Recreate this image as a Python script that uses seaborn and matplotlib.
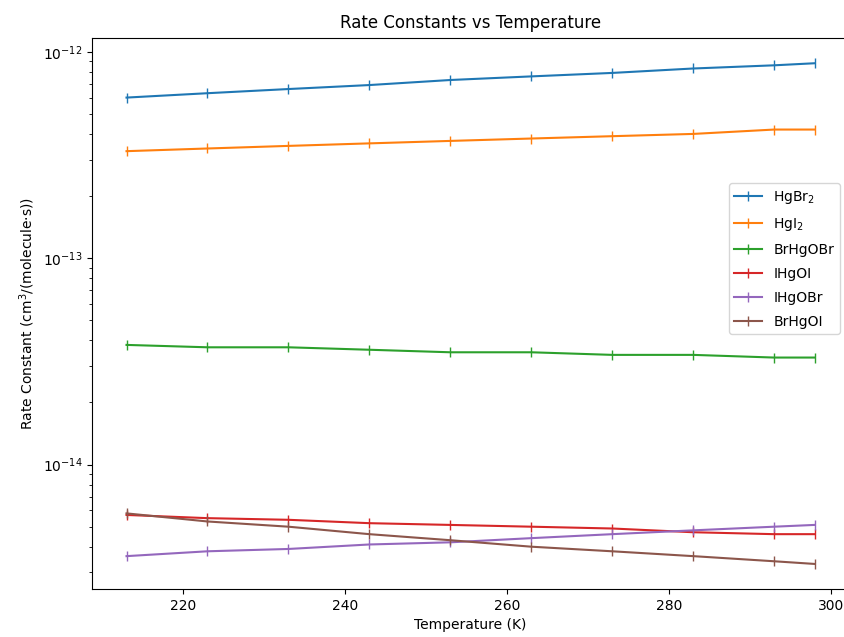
import numpy as np
import seaborn as sns
import matplotlib
import matplotlib.pyplot as plt

matplotlib.use('Agg')

temps = [213, 223, 233, 243, 253, 263, 273, 283, 293, 298]

hgbr2 = [6.0e-13, 6.3e-13, 6.6e-13, 6.9e-13, 7.3e-13, 7.6e-13, 7.9e-13, 8.3e-13, 8.6e-13, 8.8e-13]
hgi2 = [3.3e-13, 3.4e-13, 3.5e-13, 3.6e-13, 3.7e-13, 3.8e-13, 3.9e-13, 4.0e-13, 4.2e-13, 4.2e-13]
brhgobr = [3.8e-14, 3.7e-14, 3.7e-14, 3.6e-14, 3.5e-14, 3.5e-14, 3.4e-14, 3.4e-14, 3.3e-14, 3.3e-14]
ihgoi = [5.7e-15, 5.5e-15, 5.4e-15, 5.2e-15, 5.1e-15, 5.0e-15, 4.9e-15, 4.7e-15, 4.6e-15, 4.6e-15]
ihgobr = [3.6e-15, 3.8e-15, 3.9e-15, 4.1e-15, 4.2e-15, 4.4e-15, 4.6e-15, 4.8e-15, 5.0e-15, 5.1e-15]
brhgoi = [5.8e-15, 5.3e-15, 5.0e-15, 4.6e-15, 4.3e-15, 4.0e-15, 3.8e-15, 3.6e-15, 3.4e-15, 3.3e-15]

series = [(r'HgBr$_2$', hgbr2), (r'HgI$_2$', hgi2), ('BrHgOBr', brhgobr),
          ('IHgOI', ihgoi), ('IHgOBr', ihgobr), ('BrHgOI', brhgoi)]
colors = sns.color_palette('tab10', len(series))

fig, ax = plt.subplots(figsize=(8.45, 6.37), dpi=100)

for (name, vals), c in zip(series, colors):
    sns.lineplot(x=temps, y=vals, ax=ax, color=c, marker='|',
                 markeredgecolor=c, markeredgewidth=1, markersize=7,
                 label=name)

ax.set_yscale('log')
ax.set_xlabel('Temperature (K)')
ax.set_ylabel(r'Rate Constant (cm$^3$/(molecule$\cdot$s))')
ax.set_title('Rate Constants vs Temperature', y=1.003)
ax.legend(loc='center right', bbox_to_anchor=(0.997, 0.60), labelspacing=0.72)

# reference is cropped slightly on the right
fig.subplots_adjust(left=0.109, right=1.0047, top=0.940, bottom=0.0754)
fig.savefig('out.png')
